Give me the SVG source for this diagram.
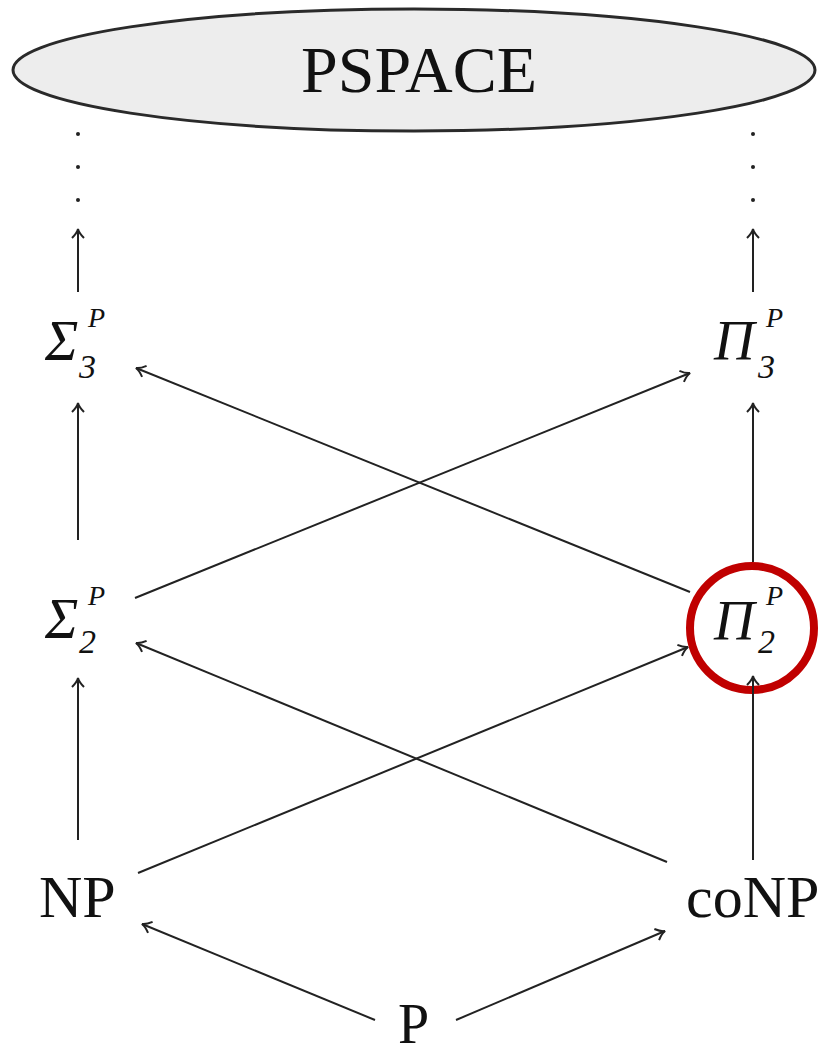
<svg xmlns="http://www.w3.org/2000/svg" width="818" height="1055" viewBox="0 0 818 1055">
<style>
.lbl{font-family:"Liberation Serif","Times New Roman",serif;fill:#111}
.it{font-style:italic}
.edge{stroke:#222;stroke-width:2;fill:none;marker-end:url(#ah)}
.dot{fill:#222}
</style>
<defs>
<marker id="ah" markerUnits="userSpaceOnUse" markerWidth="20" markerHeight="20" viewBox="-12 -10 14 20" refX="0" refY="0" orient="auto">
<path d="M -9 -6 Q -4 -1 0 0 Q -4 1 -9 6" fill="none" stroke="#222" stroke-width="2"/>
</marker>
</defs>
<rect width="818" height="1055" fill="#fff"/>
<g id="pspace">
<ellipse cx="414" cy="70" rx="401" ry="61" fill="#ededed" stroke="#2a2a2a" stroke-width="3"/>
<text class="lbl" x="419" y="92" font-size="66" text-anchor="middle">PSPACE</text>
</g>
<g id="dots">
<circle class="dot" cx="78" cy="134" r="2"/>
<circle class="dot" cx="78" cy="167" r="2"/>
<circle class="dot" cx="78" cy="200" r="2"/>
<circle class="dot" cx="753" cy="134" r="2"/>
<circle class="dot" cx="753" cy="167" r="2"/>
<circle class="dot" cx="753" cy="200" r="2"/>
</g>
<g id="sigma3">
<text class="lbl it" x="45" y="360" font-size="56">Σ</text>
<text class="lbl it" x="88" y="327" font-size="28">P</text>
<text class="lbl it" x="79" y="378" font-size="34">3</text>
</g>
<g id="pi3">
<text class="lbl it" x="714" y="360" font-size="56">Π</text>
<text class="lbl it" x="766" y="327" font-size="28">P</text>
<text class="lbl it" x="758" y="378" font-size="34">3</text>
</g>
<g id="sigma2">
<text class="lbl it" x="45" y="638" font-size="56">Σ</text>
<text class="lbl it" x="88" y="605" font-size="28">P</text>
<text class="lbl it" x="79" y="653" font-size="34">2</text>
</g>
<g id="pi2">
<text class="lbl it" x="714" y="640" font-size="56">Π</text>
<text class="lbl it" x="766" y="605" font-size="28">P</text>
<text class="lbl it" x="758" y="653" font-size="34">2</text>
<circle cx="752" cy="628" r="62" fill="none" stroke="#c00000" stroke-width="8"/>
</g>
<g id="np">
<text class="lbl" x="39" y="917" font-size="60">NP</text>
</g>
<g id="conp">
<text class="lbl" x="686" y="917" font-size="60">coNP</text>
</g>
<g id="p">
<text class="lbl" x="398" y="1043" font-size="56">P</text>
</g>
<g id="connectors">
<line class="edge" x1="78" y1="292" x2="78" y2="229"/>
<line class="edge" x1="753" y1="292" x2="753" y2="229"/>
<line class="edge" x1="78" y1="540" x2="78" y2="403"/>
<line class="edge" x1="753" y1="562" x2="753" y2="403"/>
<line class="edge" x1="78" y1="840" x2="78" y2="678"/>
<line class="edge" x1="753" y1="860" x2="753" y2="676"/>
<line class="edge" x1="135" y1="598" x2="690" y2="373"/>
<line class="edge" x1="690" y1="592" x2="136" y2="368"/>
<line class="edge" x1="138" y1="873" x2="688" y2="647"/>
<line class="edge" x1="667" y1="862" x2="136" y2="643"/>
<line class="edge" x1="375" y1="1020" x2="142" y2="924"/>
<line class="edge" x1="456" y1="1020" x2="665" y2="931"/>
</g>
</svg>
